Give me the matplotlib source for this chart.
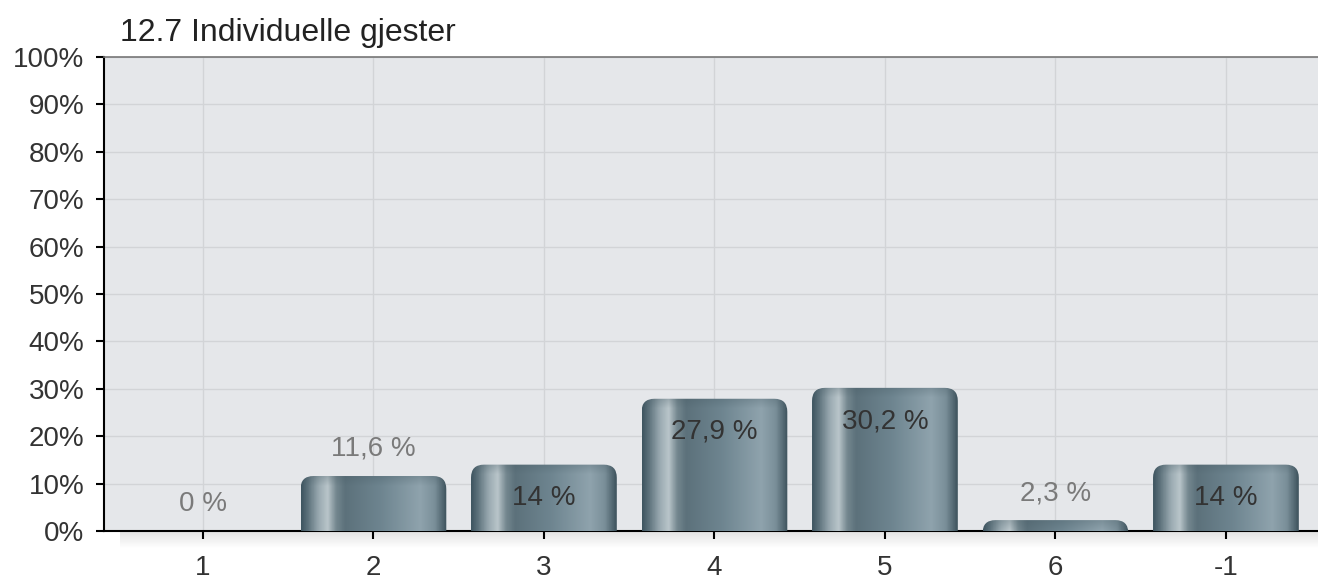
import numpy as np
import matplotlib
matplotlib.use("Agg")
import matplotlib.pyplot as plt
from matplotlib.patches import FancyBboxPatch
from matplotlib.colors import LinearSegmentedColormap

categories = ["1", "2", "3", "4", "5", "6", "-1"]
values = [0, 11.6, 14, 27.9, 30.2, 2.3, 14]
labels = ["0 %", "11,6 %", "14 %", "27,9 %", "30,2 %", "2,3 %", "14 %"]
yticks = list(range(0, 101, 10))
title = "12.7 Individuelle gjester"

plt.rcParams['font.family'] = ['Liberation Sans', 'DejaVu Sans']

W, H = 1318, 579
fig = plt.figure(figsize=(W / 100, H / 100), dpi=100)

# faint shadow below the x axis
sh = fig.add_axes([120 / W, (H - 548) / H, (1318 - 120) / W, 17 / H])
sh.axis("off")
g = np.linspace(0, 1, 50)[:, None] * np.ones((1, 10))
shadow_cmap = LinearSegmentedColormap.from_list("sh", ["#e2e2e2", "#ffffff"])
sh.imshow(g, cmap=shadow_cmap, aspect="auto", extent=(0, 1, 0, 1), interpolation="bilinear")

ax = fig.add_axes([104 / W, (H - 531) / H, (1318 - 104) / W, (531 - 57) / H])
ax.set_facecolor("#e5e7ea")

xpos = np.arange(len(categories)) + 1
ax.set_xlim(0.42, 7.54)
ax.set_ylim(0, 100)

ax.set_yticks(yticks)
ax.set_yticklabels([f"{t}%" for t in yticks])
ax.set_xticks(xpos)
ax.set_xticklabels(categories)
ax.grid(True, color="#d2d4d7", linewidth=1.0)
ax.set_axisbelow(True)
ax.tick_params(axis="both", direction="out", length=6, width=1.5, color="black",
               labelsize=20, labelcolor="#333333")
ax.tick_params(axis="x", pad=11)
ax.tick_params(axis="y", pad=8)
for s in ["left", "bottom"]:
    ax.spines[s].set_linewidth(1.5)
    ax.spines[s].set_color("black")
ax.spines["top"].set_color("#777777")
ax.spines["top"].set_linewidth(1.2)
ax.spines["right"].set_visible(False)

# metallic horizontal gradient
stops = [(0.0, "#3f5661"), (0.04, "#5a6f79"), (0.12, "#9aaab1"), (0.18, "#b9c5ca"),
         (0.24, "#74878f"), (0.30, "#5c717b"), (0.55, "#6e8590"), (0.82, "#8fa3ad"),
         (0.92, "#7a8f99"), (1.0, "#3f545e")]
cmap = LinearSegmentedColormap.from_list("metal", stops)

bar_w = 0.855
px_y = 100 / 474.0  # data units per pixel (y)
px_x = 1 / 170.5    # data units per pixel (x)
for x, v in zip(xpos, values):
    if v <= 0:
        continue
    x0, x1 = x - bar_w / 2, x + bar_w / 2
    nx, ny = 200, 200
    grad = np.tile(np.linspace(0, 1, nx), (ny, 1))
    rgba = cmap(grad)
    top_px = 10
    heights = np.linspace(v, 0, ny)
    dist_px = (v - heights) / px_y
    f = np.clip(dist_px / top_px, 0, 1)
    dark = 0.72 + 0.28 * f
    rgba[..., :3] = rgba[..., :3] * dark[:, None, None] + np.array([0.30, 0.39, 0.43]) * (1 - dark[:, None, None]) * 0.9
    im = ax.imshow(rgba, extent=(x0, x1, 0, v), aspect="auto", zorder=3, interpolation="bilinear")
    r_px = 13
    patch = FancyBboxPatch((x0, -5), bar_w, v + 5,
                           boxstyle=f"round,pad=0,rounding_size={r_px * px_x}",
                           mutation_aspect=(px_y / px_x),
                           facecolor="none", edgecolor="none", transform=ax.transData)
    ax.add_patch(patch)
    im.set_clip_path(patch)

for x, v, lab in zip(xpos, values, labels):
    if v < 13:
        ax.text(x, v + 5.7, lab, ha="center", va="center", fontsize=20, color="#7a7a7a", zorder=5)
    else:
        ax.text(x, v - 7, lab, ha="center", va="center", fontsize=20, color="#333333", zorder=5)

fig.text(120 / W, 1 - 33 / H, title, ha="left", va="center", fontsize=23, color="#222222")

fig.savefig("out.png", dpi=100)
